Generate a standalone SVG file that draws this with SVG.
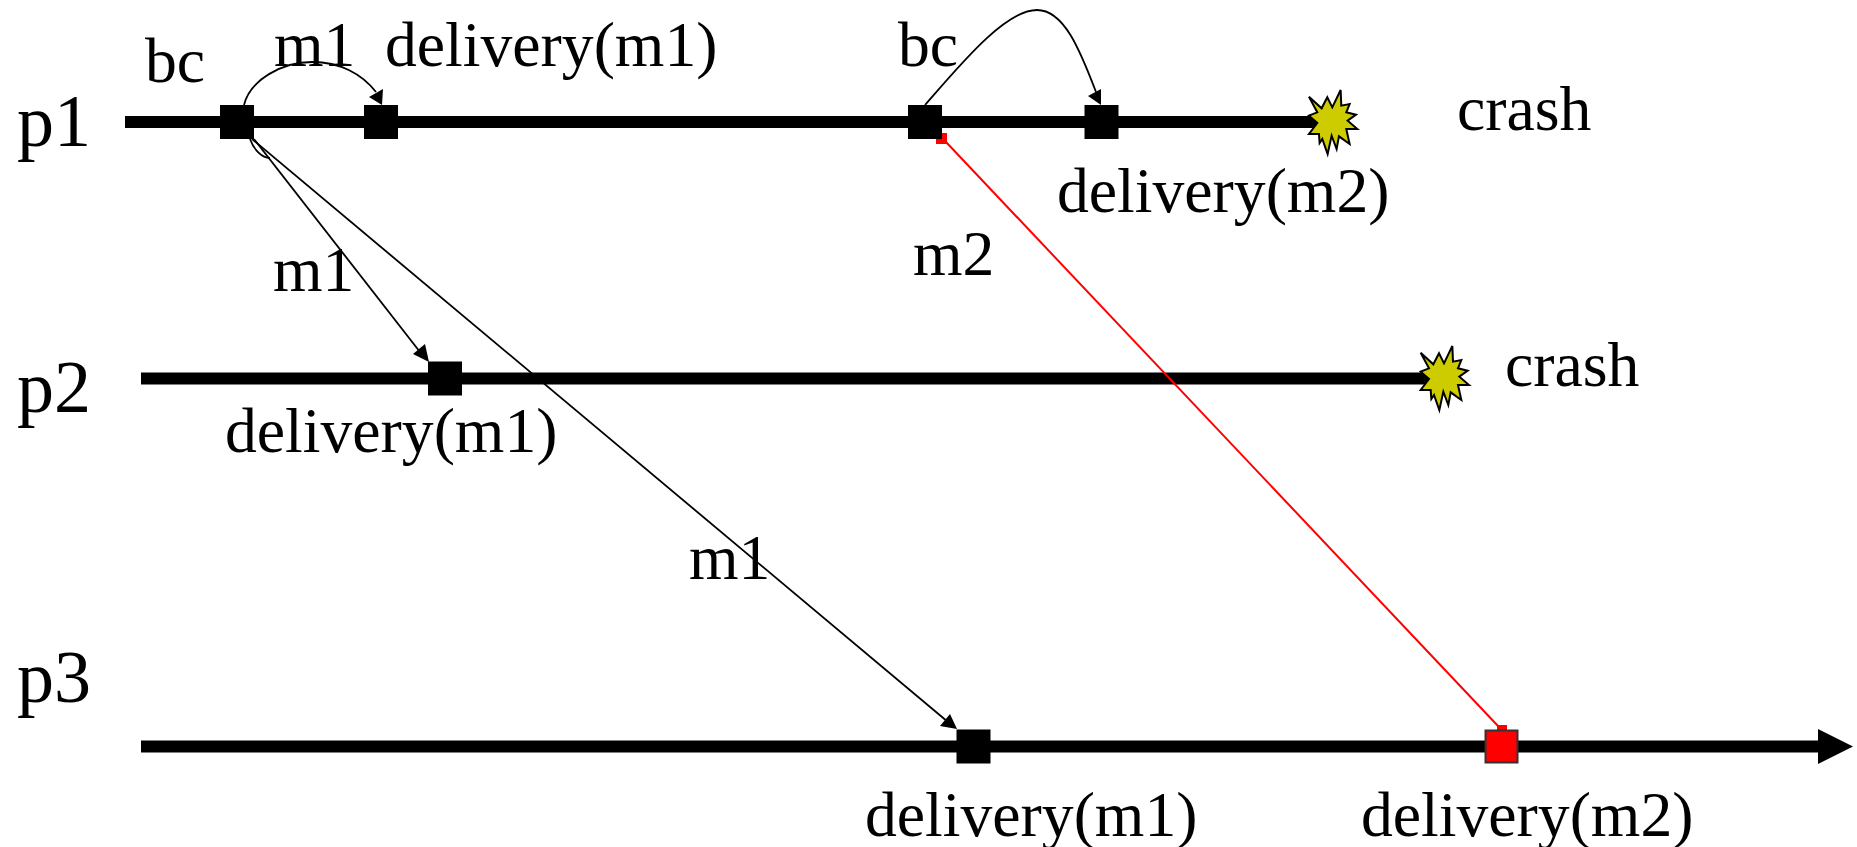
<svg xmlns="http://www.w3.org/2000/svg" width="1857" height="847" viewBox="0 0 1857 847">
<style>
text{font-family:"Liberation Serif","Times New Roman",serif;font-size:63.700px;fill:#000}
text.big{font-size:74px}
.tl{stroke:#000;stroke-width:12;fill:none}
.sq{fill:#000}
.c{stroke:#000;stroke-width:1.8;fill:none}
.ah{fill:#000}
.star{fill:#cccc00;stroke:#000;stroke-width:6;stroke-linejoin:miter}
</style>
<defs>
<polygon id="burst" class="star" points="125,68 163,103 180,70 195,100 220,48 222,95 247,90 237,115 266,122 241,140 270,165 237,165 247,210 215,187 208,225 193,185 181,240 165,195 157,207 155,180 125,180 150,147 125,125 150,115"/>
</defs>
<g id="connectors">
<line class="tl" x1="125" y1="122" x2="1320" y2="122"/>
<line class="tl" x1="141" y1="378.500" x2="1430" y2="378.500"/>
<line class="tl" x1="141" y1="746.500" x2="1820" y2="746.500"/>
<polygon class="ah" points="1818,729 1853,746.500 1818,764"/>
<path class="c" d="M244,105 C250,80 282,62 312,62 C340,62 362,74 376,92"/>
<polygon class="ah" points="382,105 383,89 369,97"/>
<path class="c" d="M925,105 C960,65 1005,10 1037,10 C1064,10 1080,50 1096,92"/>
<polygon class="ah" points="1101,105 1101,89 1088,96"/>
<line class="c" x1="254" y1="139" x2="420" y2="352"/>
<polygon class="ah" points="429,362 425,344 413,354"/>
<line class="c" x1="252" y1="139" x2="948" y2="722"/>
<polygon class="ah" points="957,729 950,714 940,726"/>
<path class="c" d="M250,139 C254,150 262,158 270,158"/>
<line stroke="#f00" stroke-width="2" x1="946" y1="142" x2="1498" y2="726"/>
<rect x="936" y="133" width="11" height="11" fill="#f00"/>
<rect x="1497" y="725" width="10" height="6" fill="#f00"/>
</g>
<g id="node-p1-bc"><rect class="sq" x="220" y="105" width="34" height="34"/></g>
<g id="node-p1-dm1"><rect class="sq" x="364" y="105" width="34" height="34"/></g>
<g id="node-p1-bc2"><rect class="sq" x="908" y="105" width="34" height="34"/></g>
<g id="node-p1-dm2"><rect class="sq" x="1084.500" y="105" width="34" height="34"/></g>
<g id="node-p2-dm1"><rect class="sq" x="428" y="361.500" width="34" height="34"/></g>
<g id="node-p3-dm1"><rect class="sq" x="956.500" y="729.500" width="34" height="34"/></g>
<g id="node-p3-dm2"><rect x="1485.500" y="730.500" width="32" height="32" fill="#f00" stroke="#333" stroke-width="2"/></g>
<g id="node-crash1"><use href="#burst" transform="translate(1267.300,74) scale(0.3333)"/></g>
<g id="node-crash2"><use href="#burst" transform="translate(1379,330) scale(0.3333)"/></g>
<g id="labels">
<text class="big" x="17" y="146">p1</text>
<text class="big" x="17" y="412">p2</text>
<text class="big" x="17" y="702">p3</text>
<text x="145" y="82">bc</text>
<text x="274" y="66">m1</text>
<text x="385" y="66">delivery(m1)</text>
<text x="898" y="66">bc</text>
<text x="1457" y="130">crash</text>
<text x="1057" y="212">delivery(m2)</text>
<text x="913" y="275">m2</text>
<text x="273" y="291">m1</text>
<text x="225" y="452">delivery(m1)</text>
<text x="1505" y="386">crash</text>
<text x="689" y="579">m1</text>
<text x="865" y="836">delivery(m1)</text>
<text x="1361" y="836">delivery(m2)</text>
</g>
</svg>
